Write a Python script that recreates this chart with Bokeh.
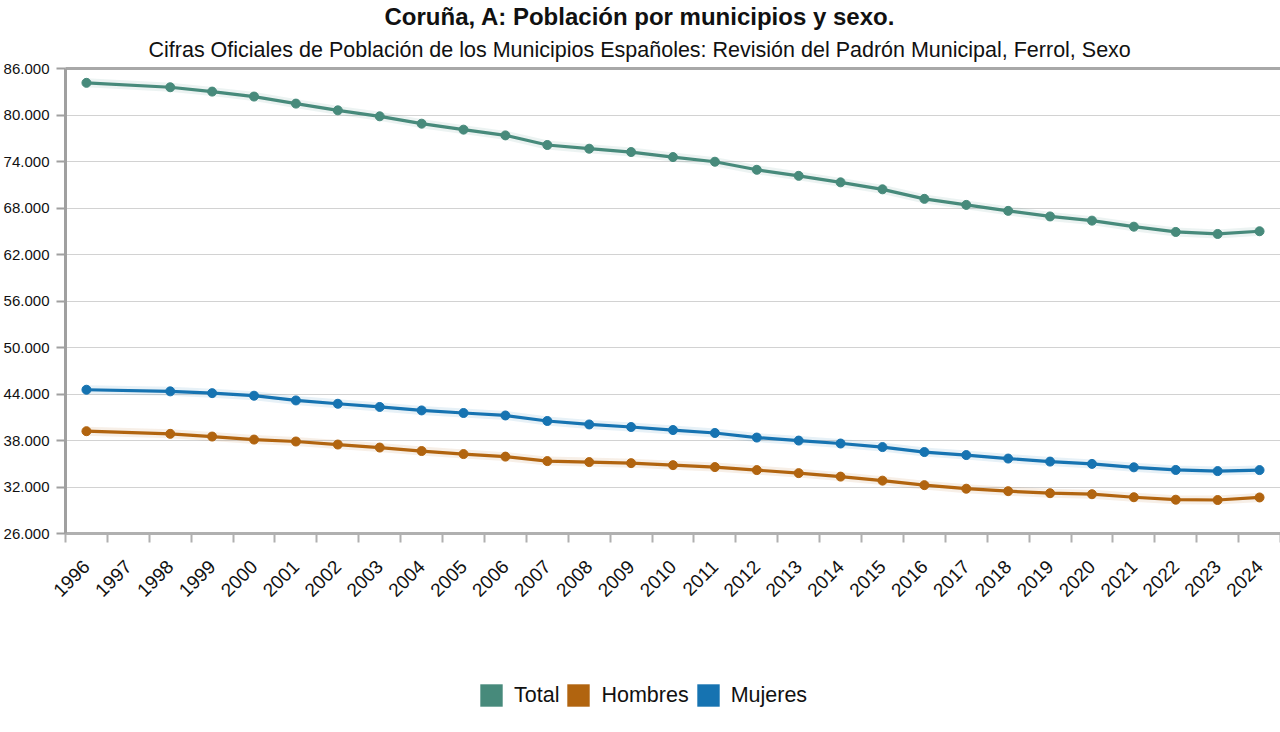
import math

from bokeh.embed import file_html
from bokeh.layouts import column
from bokeh.models import (FixedTicker, Legend, LegendItem, LinearAxis, Range1d,
                          Title)
from bokeh.plotting import figure
from bokeh.resources import INLINE

# Padrón municipal, Ferrol (no revision in 1997)
years = [1996, 1998, 1999, 2000, 2001, 2002, 2003, 2004, 2005, 2006, 2007,
         2008, 2009, 2010, 2011, 2012, 2013, 2014, 2015, 2016, 2017, 2018,
         2019, 2020, 2021, 2022, 2023, 2024]
total = [84150, 83580, 83020, 82380, 81470, 80600, 79830, 78880, 78110,
         77370, 76130, 75650, 75220, 74570, 73970, 72930, 72150, 71310,
         70410, 69180, 68400, 67630, 66910, 66370, 65590, 64910, 64650, 65000]
hombres = [39200, 38860, 38510, 38120, 37870, 37480, 37090, 36640, 36250,
           35920, 35340, 35210, 35080, 34820, 34570, 34180, 33790, 33340,
           32820, 32240, 31780, 31460, 31200, 31070, 30680, 30360, 30320, 30650]
mujeres = [44550, 44340, 44110, 43780, 43170, 42740, 42330, 41880, 41550,
           41230, 40520, 40070, 39740, 39350, 38970, 38380, 37990, 37610,
           37150, 36510, 36120, 35670, 35280, 34980, 34540, 34200, 34050, 34180]

axis_years = list(range(1996, 2025))
y_ticks = list(range(26000, 86001, 6000))
y_labels = {t: f"{t:,}".replace(",", ".") for t in y_ticks}

series = [("Total", total, "#478a7b"),
          ("Hombres", hombres, "#b1640f"),
          ("Mujeres", mujeres, "#1673b1")]

FONT = "Liberation Sans"

p = figure(width=1280, height=658, output_backend="svg", toolbar_location=None,
           x_range=Range1d(1995.5, 2024.5), y_range=Range1d(26000, 86000),
           min_border_left=20, min_border_right=0, min_border_top=0,
           min_border_bottom=125, background_fill_color="white",
           border_fill_color="white", outline_line_color=None)

# x axis: labels at year centres, tick marks on the boundaries between years
xa = p.below[0]
xa.ticker = FixedTicker(ticks=axis_years,
                        minor_ticks=[y - 0.5 for y in axis_years] + [2024.5])
xa.major_label_orientation = math.pi / 4
xa.major_label_text_font = FONT
xa.major_label_text_font_size = "19px"
xa.major_label_text_color = "#111111"
xa.major_label_standoff = 21
xa.major_tick_out = 0
xa.major_tick_in = 0
xa.minor_tick_out = 9
xa.minor_tick_in = 0
xa.minor_tick_line_color = "#b0b0b0"
xa.minor_tick_line_width = 2
xa.axis_line_color = "#b0b0b0"
xa.axis_line_width = 3

ya = p.left[0]
ya.ticker = FixedTicker(ticks=y_ticks)
ya.major_label_overrides = y_labels
ya.major_label_text_font = FONT
ya.major_label_text_font_size = "15px"
ya.major_label_text_color = "#111111"
ya.major_label_standoff = 7
ya.major_tick_out = 9
ya.major_tick_in = 0
ya.minor_tick_out = 0
ya.minor_tick_in = 0
ya.major_tick_line_color = "#a0a0a0"
ya.major_tick_line_width = 2
ya.axis_line_color = "#a0a0a0"
ya.axis_line_width = 3

# top frame edge drawn as a bare axis line
top = LinearAxis(ticker=FixedTicker(ticks=[]), major_tick_out=0,
                 major_tick_in=0, major_label_standoff=0, minor_tick_out=0,
                 minor_tick_in=0, axis_line_color="#a8a8a8", axis_line_width=3,
                 major_tick_line_color=None, minor_tick_line_color=None)
p.add_layout(top, "above")

p.add_layout(Title(text="Cifras Oficiales de Población de los Municipios Españoles: "
                        "Revisión del Padrón Municipal, Ferrol, Sexo",
                   align="left", offset=83, text_font=FONT,
                   text_font_size="21.5px", text_font_style="normal",
                   text_color="#111111", standoff=13), "above")
p.add_layout(Title(text="Coruña, A: Población por municipios y sexo.",
                   align="left", offset=319, text_font=FONT,
                   text_font_size="24px", text_font_style="bold",
                   text_color="#111111", standoff=0), "above")

p.xgrid.visible = False
p.ygrid.ticker = FixedTicker(ticks=y_ticks)
p.ygrid.grid_line_color = "#d2d2d2"
p.ygrid.grid_line_width = 1

for name, vals, color in series:
    p.line(years, vals, line_color=color, line_width=9, line_alpha=0.10)
    p.line(years, vals, line_color=color, line_width=3.2)
    p.scatter(years, vals, size=9, fill_color=color, line_color=color)

# legend strip under the chart, with square colour keys
lf = figure(width=1280, height=74, output_backend="svg", toolbar_location=None,
            x_range=Range1d(0, 1), y_range=Range1d(0, 1),
            x_axis_location=None, y_axis_location=None, min_border=0,
            outline_line_color=None, background_fill_color="white",
            border_fill_color="white")
lf.grid.visible = False

items = []
for name, vals, color in series:
    key = lf.rect(x=years, y=vals, width=0, height=0, fill_color=color,
                  line_color=None)
    items.append(LegendItem(label=name, renderers=[key]))

legend = Legend(items=items, orientation="horizontal", location=(412, 23),
                glyph_width=28, glyph_height=28, label_standoff=9, spacing=5,
                padding=0, margin=0, border_line_alpha=0,
                background_fill_alpha=0, label_text_font=FONT,
                label_text_font_size="21.5px", label_text_color="#111111",
                label_height=28)
lf.add_layout(legend, "center")

page = column(p, lf, spacing=0)
open("out.html", "w").write(file_html(page, INLINE))
